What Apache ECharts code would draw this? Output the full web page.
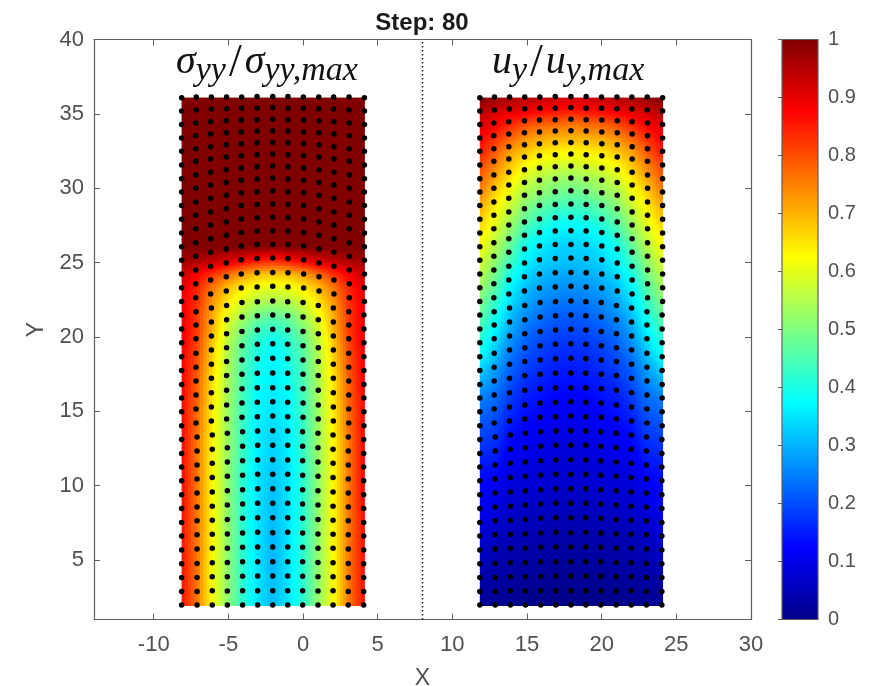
<!DOCTYPE html>
<html><head><meta charset="utf-8">
<style>html,body{margin:0;padding:0;background:#fff}#c{width:872px;height:686px}</style>
<script src="https://cdn.jsdelivr.net/npm/echarts@6/dist/echarts.min.js"></script>
</head><body><div id="c"></div>
<script>
const xTicks = [-10,-5,0,5,10,15,20,25,30];
const yTicks = [5,10,15,20,25,30,35,40];
const barTicks = [0,0.1,0.2,0.3,0.4,0.5,0.6,0.7,0.8,0.9,1];
const jetStops = [[0,[0,0,136]],[0.125,[0,0,255]],[0.375,[0,255,255]],[0.625,[255,255,0]],[0.875,[255,0,0]],[1,[128,0,0]]];
const panelShift = 19.97;
const heatX = [-8.13,-7.11,-6.09,-5.07,-4.05,-3.04,-2.02,-1.0,0.02,1.04,2.06,3.07,4.08];
const heatY = [36.09,35.19,34.29,33.38,32.48,31.56,30.64,29.74,28.83,27.91,26.99,26.07,25.15,24.23,23.31,22.39,21.47,20.53,19.61,18.67,17.75,16.81,15.89,14.97,14.03,13.11,12.17,11.25,10.33,9.39,8.47,7.53,6.61,5.67,4.75,3.83,2.89,1.97];
// Field values, edge column to centre column, one row per heatY
const sigmaHalf = [
[1,1,1,1,1,1,1],[1,1,1,1,1,1,1],[1,1,1,1,1,1,1],[1,1,1,1,1,1,1],[1,1,1,1,1,1,1],[1,1,1,1,1,1,1],
[1,1,1,1,1,1,1],[1,1,1,1,1,1,1],[1,1,1,1,1,1,1],[1,1,1,1,1,1,1],[1,1,1,1,1,1,1],[1,1,1,1,1,1,.99],
[.97,.96,.94,.92,.89,.86,.84],[.93,.88,.83,.77,.72,.69,.68],[.90,.84,.76,.69,.64,.61,.60],
[.89,.83,.73,.65,.59,.55,.54],[.89,.82,.71,.61,.54,.49,.47],[.89,.82,.70,.58,.50,.44,.42],
[.89,.81,.68,.56,.47,.41,.38],[.88,.80,.67,.55,.46,.40,.37],[.88,.79,.66,.55,.45,.39,.36],
[.88,.78,.65,.54,.45,.38,.36],[.87,.78,.65,.54,.44,.37,.35],[.87,.77,.64,.53,.44,.37,.35],
[.87,.77,.64,.53,.43,.36,.34],[.87,.76,.63,.53,.43,.36,.33],[.87,.76,.63,.53,.43,.36,.33],
[.87,.76,.63,.52,.42,.35,.32],[.87,.76,.63,.52,.42,.35,.32],[.87,.76,.63,.52,.42,.35,.31],
[.87,.76,.63,.52,.42,.35,.31],[.86,.76,.63,.52,.42,.35,.31],[.86,.76,.63,.52,.42,.35,.30],
[.86,.76,.63,.52,.42,.35,.30],[.86,.76,.62,.52,.42,.35,.30],[.86,.76,.62,.52,.42,.35,.31],
[.86,.76,.62,.52,.42,.35,.31],[.86,.76,.62,.52,.42,.35,.31]];
const uHalf = [
[1,.98,.96,.95,.94,.93,.92],[.95,.92,.90,.89,.87,.86,.85],[.91,.88,.84,.80,.78,.77,.76],[.88,.83,.78,.73,.71,.70,.70],
[.85,.79,.72,.68,.65,.64,.63],[.81,.75,.68,.63,.60,.585,.58],[.78,.71,.645,.58,.55,.53,.52],[.75,.67,.61,.54,.52,.49,.48],
[.71,.64,.57,.51,.47,.445,.44],[.68,.61,.54,.47,.43,.40,.39],[.65,.58,.51,.43,.385,.36,.355],[.62,.55,.47,.39,.355,.335,.33],
[.59,.52,.44,.37,.335,.32,.315],[.56,.49,.40,.34,.31,.295,.29],[.53,.46,.37,.315,.285,.27,.265],[.50,.43,.345,.29,.26,.245,.24],
[.47,.40,.315,.265,.24,.22,.215],[.44,.37,.29,.24,.215,.20,.195],[.41,.34,.265,.22,.195,.18,.175],[.38,.31,.24,.20,.18,.165,.16],
[.33,.28,.22,.185,.165,.15,.145],[.29,.255,.20,.165,.15,.14,.135],[.25,.23,.18,.15,.14,.125,.12],[.23,.21,.165,.14,.13,.115,.11],
[.205,.19,.145,.125,.115,.105,.10],[.185,.175,.13,.115,.105,.095,.09],[.165,.155,.115,.105,.095,.085,.085],[.145,.14,.10,.09,.085,.08,.08],
[.135,.12,.09,.085,.08,.075,.075],[.125,.105,.08,.075,.07,.065,.065],[.115,.09,.07,.065,.06,.055,.055],[.10,.075,.06,.055,.05,.045,.045],
[.085,.06,.05,.045,.04,.035,.035],[.07,.05,.04,.035,.03,.03,.025],[.055,.04,.035,.03,.025,.02,.02],[.04,.03,.025,.02,.015,.015,.015],
[.025,.02,.015,.01,.005,.005,.005],[.015,.01,.01,.005,0,0,0]];
// Node heights by column (edge to centre), top row to bottom row
const dotYCols = [
[36.09,35.19,34.29,33.38,32.48,31.56,30.64,29.74,28.83,27.91,26.99,26.07,25.15,24.23,23.31,22.39,21.47,20.53,19.61,18.67,17.75,16.81,15.89,14.97,14.03,13.11,12.17,11.25,10.33,9.39,8.47,7.53,6.61,5.67,4.75,3.83,2.89,1.97],
[36.13,35.26,34.38,33.53,32.66,31.81,30.89,29.99,29.07,28.18,27.28,26.34,25.42,24.50,23.58,22.64,21.70,20.80,19.88,18.90,17.96,17.04,16.10,15.15,14.21,13.27,12.33,11.39,10.45,9.50,8.56,7.64,6.70,5.74,4.77,3.83,2.89,1.97],
[36.13,35.33,34.47,33.64,32.79,31.96,31.07,30.22,29.32,28.40,27.53,26.61,25.69,24.75,23.83,22.88,21.94,21.00,20.06,19.12,18.16,17.22,16.25,15.29,14.35,13.41,12.44,11.50,10.54,9.57,8.61,7.67,6.73,5.79,4.82,3.88,2.94,1.97],
[36.13,35.35,34.54,33.73,32.93,32.10,31.25,30.39,29.52,28.62,27.73,26.83,25.91,24.97,24.05,23.09,22.12,21.16,20.22,19.28,18.34,17.40,16.41,15.42,14.48,13.52,12.55,11.59,10.63,9.66,8.70,7.73,6.75,5.79,4.84,3.88,2.92,1.97],
[36.13,35.37,34.59,33.78,32.99,32.19,31.36,30.53,29.70,28.83,27.93,27.03,26.11,25.19,24.23,23.29,22.32,21.34,20.37,19.41,18.45,17.49,16.52,15.56,14.60,13.63,12.65,11.68,10.70,9.73,8.77,7.80,6.82,5.85,4.89,3.90,2.94,1.97],
[36.16,35.37,34.61,33.85,33.06,32.25,31.45,30.62,29.77,28.91,28.02,27.12,26.22,25.28,24.32,23.36,22.37,21.43,20.46,19.50,18.54,17.55,16.59,15.60,14.64,13.68,12.71,11.73,10.76,9.80,8.81,7.85,6.86,5.88,4.89,3.93,2.94,1.97],
[36.16,35.42,34.63,33.87,33.08,32.30,31.49,30.69,29.83,28.94,28.04,27.14,26.22,25.31,24.34,23.40,22.41,21.47,20.51,19.54,18.56,17.58,16.59,15.65,14.69,13.70,12.71,11.75,10.76,9.80,8.81,7.85,6.84,5.88,4.89,3.93,2.94,1.97]];
// Node X by band of rows (last row of each band in dotXBandEnds)
const dotXBandEnds = [1,15,24,37];
const dotXBands = [
[-8.13,-7.15,-6.14,-5.12,-4.11,-3.08,-2.03,-1.01,0.02,1.05,2.05,3.08,4.11],
[-8.13,-7.19,-6.19,-5.14,-4.14,-3.08,-2.03,-1.01,0.04,1.07,2.07,3.10,4.11],
[-8.13,-7.17,-6.14,-5.12,-4.09,-3.06,-2.03,-1.03,0,1.02,2.03,3.06,4.08],
[-8.13,-7.10,-6.08,-5.07,-4.05,-3.04,-2.03,-1.03,-0.03,1.0,2.01,3.03,4.06]];
const dividerX = [8,8];
const dividerY = [1,40];

function jet(v){
  v=Math.max(0,Math.min(1,v));
  for(let i=1;i<jetStops.length;i++){
    const a=jetStops[i-1],b=jetStops[i];
    if(v<=b[0]){
      const t=(v-a[0])/(b[0]-a[0]);
      return 'rgb('+a[1].map((c,j)=>Math.round(c+(b[1][j]-c)*t)).join(',')+')';
    }
  }
  return 'rgb(128,0,0)';
}
const full = row => row.concat(row.slice(0,6).reverse());
function cells(half, shift){
  const out=[];
  for(let k=0;k<heatY.length-1;k++){
    const r0=full(half[k]), r1=full(half[k+1]);
    for(let i=0;i<heatX.length-1;i++){
      out.push([heatX[i]+shift,heatY[k],heatX[i+1]+shift,heatY[k+1],r0[i],r0[i+1],r1[i],r1[i+1]]);
    }
  }
  return out;
}
function dots(shift){
  const out=[];
  heatY.forEach((_,k)=>{
    const band=dotXBands[dotXBandEnds.findIndex(e=>k<=e)];
    for(let i=0;i<13;i++){
      out.push([band[i]+shift,dotYCols[i<=6?i:12-i][k]]);
    }
  });
  return out;
}
const SUB=5;
function renderCell(params,api){
  const p0=api.coord([api.value(0),api.value(1)]), p1=api.coord([api.value(2),api.value(3)]);
  const a=api.value(4),b=api.value(5),c=api.value(6),d=api.value(7);
  const w=(p1[0]-p0[0])/SUB,h=(p1[1]-p0[1])/SUB,children=[];
  for(let i=0;i<SUB;i++)for(let j=0;j<SUB;j++){
    const s=(i+.5)/SUB,t=(j+.5)/SUB;
    const v=a*(1-s)*(1-t)+b*s*(1-t)+c*(1-s)*t+d*s*t;
    children.push({type:'rect',shape:{x:p0[0]+i*w,y:p0[1]+j*h,width:w+.9,height:h+.9},style:{fill:jet(v)}});
  }
  return {type:'group',children};
}
const axisCol='#5f5f5f', textCol='#505050', FONT='"Liberation Sans",Arial,sans-serif';
const lineS={show:true,onZero:false,lineStyle:{color:axisCol,width:1.2}};
const tickS=v=>({show:true,inside:true,length:6,customValues:v,lineStyle:{color:axisCol,width:1}});
const mathRich={
  s:{fontFamily:'"Liberation Serif"',fontStyle:'italic',fontWeight:'normal',fontSize:40,color:'#111',padding:[0,0,9,0]},
  t:{fontFamily:'"Liberation Serif"',fontWeight:'normal',fontSize:46,color:'#111',padding:[0,3,6,3]},
  b:{fontFamily:'"Liberation Serif"',fontStyle:'italic',fontWeight:'normal',fontSize:34,color:'#111',padding:[8,0,0,0]}
};
const option={
  animation:false,backgroundColor:'#fff',
  title:[
    {text:'Step: 80',left:417,top:6,textAlign:'center',textStyle:{fontFamily:FONT,fontWeight:'bold',fontSize:24,color:'#1a1a1a'}},
    {text:'{s|σ}{b|yy}{t|/}{s|σ}{b|yy,max}',left:171,top:36,textStyle:{rich:mathRich}},
    {text:'{s|u}{b|y}{t|/}{s|u}{b|y,max}',left:487,top:36,textStyle:{rich:mathRich}}
  ],
  grid:[
    {left:94,top:39.5,width:657,height:580,outerBoundsMode:'none'},
    {left:782,top:39.5,width:36,height:580,outerBoundsMode:'none'}
  ],
  xAxis:[
    {type:'value',gridIndex:0,min:-14,max:30,position:'bottom',name:'X',nameLocation:'middle',nameGap:48,
     nameTextStyle:{fontFamily:FONT,fontSize:23,color:textCol},
     axisLine:lineS,axisTick:tickS(xTicks),splitLine:{show:false},
     axisLabel:{customValues:xTicks,margin:14,fontFamily:FONT,fontSize:22,color:textCol}},
    {type:'value',gridIndex:0,min:-14,max:30,position:'top',axisLine:lineS,axisTick:tickS(xTicks),axisLabel:{show:false},splitLine:{show:false}},
    {type:'value',gridIndex:1,min:0,max:1,show:false}
  ],
  yAxis:[
    {type:'value',gridIndex:0,min:1,max:40,position:'left',name:'Y',nameLocation:'middle',nameGap:46,nameRotate:90,
     nameTextStyle:{fontFamily:FONT,fontSize:23,color:textCol},
     axisLine:lineS,axisTick:tickS(yTicks),splitLine:{show:false},
     axisLabel:{customValues:yTicks,margin:10,fontFamily:FONT,fontSize:22,color:textCol}},
    {type:'value',gridIndex:0,min:1,max:40,position:'right',axisLine:lineS,axisTick:tickS(yTicks),axisLabel:{show:false},splitLine:{show:false}},
    {type:'value',gridIndex:1,min:0,max:1,position:'right',axisLine:{show:false},
     axisTick:{show:true,inside:true,length:4,customValues:barTicks,lineStyle:{color:axisCol}},splitLine:{show:false},
     axisLabel:{customValues:barTicks,margin:10,fontFamily:FONT,fontSize:20,color:textCol,formatter:v=>String(Math.round(v*10)/10)}}
  ],
  series:[
    {type:'custom',name:'sigma',xAxisIndex:0,yAxisIndex:0,renderItem:renderCell,data:cells(sigmaHalf,0),z:1,silent:true,progressive:0},
    {type:'custom',name:'u',xAxisIndex:0,yAxisIndex:0,renderItem:renderCell,data:cells(uHalf,panelShift),z:1,silent:true,progressive:0},
    {type:'scatter',name:'nodesL',xAxisIndex:0,yAxisIndex:0,data:dots(0),symbolSize:5.5,itemStyle:{color:'#000',opacity:1},z:3,silent:true,progressive:0},
    {type:'scatter',name:'nodesR',xAxisIndex:0,yAxisIndex:0,data:dots(panelShift),symbolSize:5.5,itemStyle:{color:'#000',opacity:1},z:3,silent:true,progressive:0},
    {type:'line',name:'divider',xAxisIndex:0,yAxisIndex:0,data:dividerX.map((x,i)=>[x,dividerY[i]]),symbol:'none',
     lineStyle:{color:'#222',width:1.5,type:[1.5,2.5]},z:2,silent:true},
    {type:'custom',name:'colorbar',xAxisIndex:2,yAxisIndex:2,z:1,silent:true,data:[[0,0,1,1]],
     renderItem:function(p,api){
       const a=api.coord([api.value(0),api.value(1)]),b=api.coord([api.value(2),api.value(3)]);
       const stops=jetStops.map(s=>({offset:1-s[0],color:'rgb('+s[1].join(',')+')'}));
       return {type:'rect',shape:{x:a[0],y:b[1],width:b[0]-a[0],height:a[1]-b[1]},
         style:{fill:new echarts.graphic.LinearGradient(0,0,0,1,stops.slice().reverse()),stroke:axisCol,lineWidth:1.2}};
     }}
  ]
};
const chart=echarts.init(document.getElementById('c'),null,{renderer:'canvas'});
chart.setOption(option);
</script></body></html>
